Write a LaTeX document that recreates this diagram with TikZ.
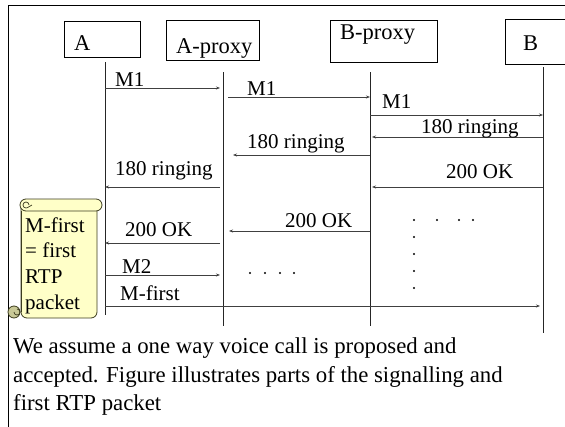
\documentclass[tikz,border=0pt]{standalone}
\usepackage{fontspec}
\setmainfont{Liberation Serif}
\usetikzlibrary{arrows.meta}
\definecolor{scrollfill}{RGB}{255,255,200}
\definecolor{curlfill}{RGB}{200,200,150}
\definecolor{scrolledge}{RGB}{60,60,30}
\begin{document}
\begin{tikzpicture}[x=1pt,y=-1pt,
  actor/.style={draw=black,line width=0.8pt,rectangle,anchor=north west,inner sep=0pt},
  actorlbl/.style={font=\fontsize{22.5}{22.5}\selectfont,anchor=base west,inner sep=0pt},
  msglbl/.style={font=\fontsize{21}{21}\selectfont,anchor=base west,inner sep=0pt},
  caption/.style={font=\fontsize{22.8}{22.8}\selectfont,anchor=base west,inner sep=0pt},
  lifeline/.style={draw=black!85,line width=0.9pt},
  msg/.style={draw=black!75,line width=0.7pt,-{Stealth[length=4pt,width=3pt]}},
  scroll/.style={draw=scrolledge,fill=scrollfill,line width=0.8pt},
  dotmark/.style={fill=black,circle,inner sep=0pt,minimum size=2.4pt}]
\useasboundingbox (0,0) rectangle (565,426);
% frame
\coordinate (fTR) at (566,5);
\coordinate (fTL) at (8,5);
\coordinate (fBL) at (8,427);
\draw[line width=0.9pt] (fTR) -- (fTL) -- (fBL);
% actor boxes
\node[actor,minimum width=76pt,minimum height=36pt] (boxA) at (64,21) {};
\node[actor,minimum width=93pt,minimum height=40pt] (boxAP) at (166,20) {};
\node[actor,minimum width=107pt,minimum height=42pt] (boxBP) at (330,20) {};
\node[actor,minimum width=62pt,minimum height=45pt] (boxB) at (505,19) {};
\node[actorlbl] (lA) at (74,50) {A};
\node[actorlbl] (lAP) at (176,53) {A-proxy};
\node[actorlbl] (lBP) at (340,39) {B-proxy};
\node[actorlbl] (lB) at (523,50) {B};
% lifelines
\coordinate (At) at (105,62);  \coordinate (Ab) at (105,315);
\coordinate (APt) at (223,72); \coordinate (APb) at (223,326);
\coordinate (BPt) at (370,72); \coordinate (BPb) at (370,326);
\coordinate (Bt) at (543,67);  \coordinate (Bb) at (543,333);
\draw[lifeline] (At) -- (Ab);
\draw[lifeline] (APt) -- (APb);
\draw[lifeline] (BPt) -- (BPb);
\draw[lifeline] (Bt) -- (Bb);
% message endpoints
\coordinate (m1s) at (105,88);  \coordinate (m1e) at (220,88);
\coordinate (m2s) at (228,97);  \coordinate (m2e) at (370,97);
\coordinate (m3s) at (370,115); \coordinate (m3e) at (543,115);
\coordinate (r1s) at (543,137); \coordinate (r1e) at (372,137);
\coordinate (r2s) at (370,155); \coordinate (r2e) at (233,155);
\coordinate (r3s) at (220,187); \coordinate (r3e) at (105,187);
\coordinate (o1s) at (543,187); \coordinate (o1e) at (372,187);
\coordinate (o2s) at (370,231); \coordinate (o2e) at (229,231);
\coordinate (o3s) at (220,243); \coordinate (o3e) at (105,243);
\coordinate (n2s) at (105,275); \coordinate (n2e) at (220,275);
\coordinate (mfs) at (105,306); \coordinate (mfe) at (540,306);
\draw[msg] (m1s) -- (m1e);
\draw[msg] (m2s) -- (m2e);
\draw[msg] (m3s) -- (m3e);
\draw[msg] (r1s) -- (r1e);
\draw[msg] (r2s) -- (r2e);
\draw[msg] (r3s) -- (r3e);
\draw[msg] (o1s) -- (o1e);
\draw[msg] (o2s) -- (o2e);
\draw[msg] (o3s) -- (o3e);
\draw[msg] (n2s) -- (n2e);
\draw[msg] (mfs) -- (mfe);
% message labels
\node[msglbl] (t1) at (115,86) {M1};
\node[msglbl] (t2) at (247,95) {M1};
\node[msglbl] (t3) at (382,108) {M1};
\node[msglbl] (t4) at (421,133) {180 ringing};
\node[msglbl] (t5) at (247,148) {180 ringing};
\node[msglbl] (t6) at (115,175) {180 ringing};
\node[msglbl] (t7) at (446,178) {200 OK};
\node[msglbl] (t8) at (285,227) {200 OK};
\node[msglbl] (t9) at (125,236) {200 OK};
\node[msglbl] (t10) at (122,273) {M2};
\node[msglbl] (t11) at (120,300) {M-first};
% dots
\foreach \x [count=\i] in {250,265,280,294} \node[dotmark] (da\i) at (\x,273) {};
\foreach \x [count=\i] in {414,437,459,473} \node[dotmark] (db\i) at (\x,220) {};
\foreach \y [count=\i] in {237,254,271,288} \node[dotmark] (dc\i) at (414,\y) {};
% scroll
\filldraw[scroll,rounded corners=6pt] (21,208) -- (21,318) -- (97,318) -- (97,208);
\filldraw[scroll,rounded corners=6pt] (20,199) rectangle (102,211);
\draw[scrolledge,line width=0.8pt] (21,211) -- (21,312);
\draw[scrolledge,line width=0.7pt] (29,205) arc[start angle=0,end angle=-300,radius=3] -- (32,205);
\filldraw[draw=scrolledge,fill=curlfill,line width=0.8pt] (14,312) circle (6);
\draw[scrolledge,line width=0.7pt] (14,312) arc[start angle=180,end angle=-90,radius=3];
\node[msglbl] (s1) at (25,232) {M-first};
\node[msglbl] (s2) at (25,257) {= first};
\node[msglbl] (s3) at (25,283) {RTP};
\node[msglbl] (s4) at (25,309) {packet};
% caption
\node[caption] (c1) at (13,353) {We assume a one way voice call is proposed and};
\node[caption] (c2) at (13,382) {accepted. Figure illustrates parts of the signalling and};
\node[caption] (c3) at (13,410) {first RTP packet};
\end{tikzpicture}
\end{document}
